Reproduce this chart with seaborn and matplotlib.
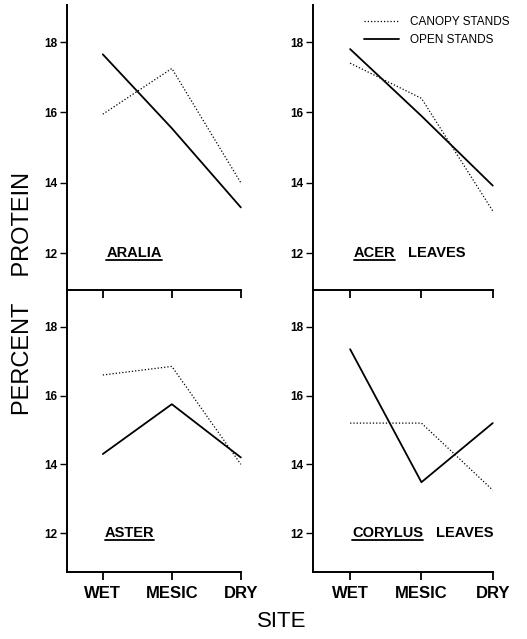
import numpy as np
import pandas as pd
import seaborn as sns
import matplotlib.pyplot as plt

# values (percent protein)
sites = ["WET", "MESIC", "DRY"]
species = ["ARALIA", "ACER", "ASTER", "CORYLUS"]
suffix = ["", "LEAVES", "", "LEAVES"]

canopy = {
    "ARALIA": [15.95, 17.25, 14.0],
    "ACER": [17.4, 16.4, 13.2],
    "ASTER": [16.6, 16.85, 14.0],
    "CORYLUS": [15.2, 15.2, 13.25],
}
open_ = {
    "ARALIA": [17.65, 15.55, 13.3],
    "ACER": [17.8, 15.9, 13.92],
    "ASTER": [14.3, 15.75, 14.2],
    "CORYLUS": [17.35, 13.48, 15.2],
}

rows = []
for sp in species:
    for i, s in enumerate(sites):
        rows.append({"species": sp, "site": i, "stand": "CANOPY STANDS", "protein": canopy[sp][i]})
        rows.append({"species": sp, "site": i, "stand": "OPEN STANDS", "protein": open_[sp][i]})
df = pd.DataFrame(rows)

sns.set_style("ticks")
plt.rcParams["font.family"] = ["Liberation Sans", "DejaVu Sans"]
plt.rcParams.update({"axes.edgecolor": "black", "text.color": "black",
                     "xtick.color": "black", "ytick.color": "black"})

fig = plt.figure(figsize=(5.27, 6.39), dpi=100)
# axes boxes: left, bottom, width, height
boxes = [
    [0.127, 0.546, 0.330, 0.446],
    [0.594, 0.546, 0.341, 0.446],
    [0.127, 0.105, 0.330, 0.441],
    [0.594, 0.105, 0.341, 0.441],
]
ylims = [(10.95, 19.05), (10.95, 19.05), (10.87, 19.07), (10.87, 19.07)]

axes = []
for k, sp in enumerate(species):
    ax = fig.add_axes(boxes[k])
    ax.patch.set_alpha(0)
    axes.append(ax)
    sub = df[df["species"] == sp]
    sns.lineplot(ax=ax, data=sub, x="site", y="protein", style="stand",
                 color="black", dashes={"CANOPY STANDS": (1, 1.6), "OPEN STANDS": ""},
                 size="stand", sizes={"CANOPY STANDS": 0.9, "OPEN STANDS": 1.3},
                 legend=(k == 1))
    for line in ax.get_lines():
        line.set_clip_on(False)
    ax.set_xlim(-0.52, 2.0)
    ax.set_ylim(*ylims[k])
    ax.set_yticks([12, 14, 16, 18])
    ax.set_xticks([0, 1, 2])
    ax.set_xlabel("")
    ax.set_ylabel("")
    sns.despine(ax=ax)
    ax.spines["left"].set_linewidth(1.4)
    ax.spines["bottom"].set_linewidth(1.4)
    ax.tick_params(axis="y", length=5, width=1, labelsize=8.5, pad=2)
    ax.tick_params(axis="x", length=6, width=1.3, direction="out")
    for lab in ax.get_yticklabels():
        lab.set_fontweight("bold")
    if k < 2:
        ax.set_xticklabels([])
    else:
        ax.set_xticklabels(sites, fontsize=12, fontweight="bold")
        ax.tick_params(axis="x", pad=4)
    if k == 1:
        leg = ax.legend(loc="upper right", bbox_to_anchor=(1.15, 1.0), frameon=False,
                        fontsize=8.5, handlelength=3.0, labelspacing=0.55,
                        handletextpad=0.9)
    # species name, underlined
    t = ax.text(0.05 if k < 2 else 0.03, 12.0, species[k], fontsize=10.5,
                fontweight="bold", va="center", ha="left")
    axes[k].name_text = t

fig.canvas.draw()
renderer = fig.canvas.get_renderer()
for k, ax in enumerate(axes):
    t = ax.name_text
    bb = t.get_window_extent(renderer).transformed(ax.transAxes.inverted())
    ax.plot([bb.x0, bb.x1], [bb.y0 + 0.002, bb.y0 + 0.002], color="black",
            lw=1.3, transform=ax.transAxes, clip_on=False)
    if suffix[k]:
        ax.text(bb.x1 + 0.07, (bb.y0 + bb.y1) / 2, suffix[k], fontsize=10.5,
                fontweight="bold", va="center", ha="left", transform=ax.transAxes)

fig.text(0.044, 0.541, "PERCENT    PROTEIN", rotation=90, fontsize=17,
         va="center", ha="center")
fig.text(0.535, 0.028, "SITE", fontsize=16, va="center", ha="center")

fig.savefig("out.png", dpi=100)
